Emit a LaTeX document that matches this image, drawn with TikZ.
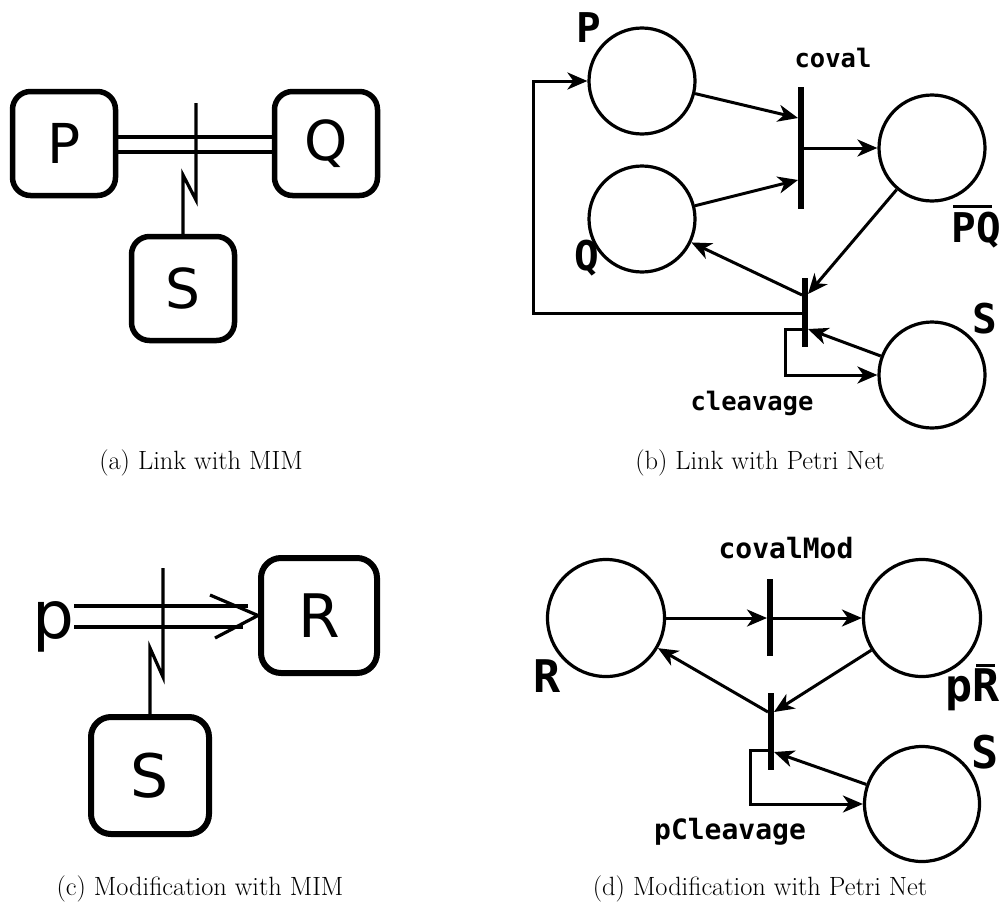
\documentclass[tikz,border=0pt]{standalone}
\usepackage{fontspec}
\newfontfamily\boxfont{DejaVu Sans}
\newfontfamily\lblfont{DejaVu Sans Mono}
\usetikzlibrary{arrows.meta}

\begin{document}
\begin{tikzpicture}[x=1pt,y=-1pt,
  mimbox/.style={draw, rounded corners=18pt, line width=5.5pt, inner sep=0pt,
    font=\boxfont\fontsize{55}{60}\selectfont},
  bigbox/.style={mimbox, rounded corners=20pt, line width=6pt,
    font=\boxfont\fontsize{60}{64}\selectfont},
  link/.style={line width=3.2pt},
  place/.style={circle, draw, line width=3.2pt, inner sep=0pt},
  trans/.style={rectangle, fill=black, inner sep=0pt, minimum width=6.5pt},
  arc/.style={line width=3pt, -{Stealth[length=20pt,width=17pt,inset=6pt]}},
  tlabel/.style={font=\lblfont\bfseries\fontsize{25.5}{28}\selectfont, anchor=base, inner sep=0pt},
  tlabelD/.style={font=\lblfont\bfseries\fontsize{28}{31}\selectfont, anchor=base, inner sep=0pt},
  plabel/.style={font=\lblfont\bfseries\fontsize{41}{44}\selectfont, anchor=base, inner sep=0pt},
  plabelD/.style={font=\lblfont\bfseries\fontsize{45}{48}\selectfont, anchor=base, inner sep=0pt},
  captext/.style={font=\fontsize{26.4}{30}\selectfont, anchor=base, inner sep=0pt},
]
\useasboundingbox (0,0) rectangle (1000,907);

% ---------- (a) link with MIM ----------
\node[mimbox, minimum width=103pt, minimum height=104pt] (P) at (64,143.5) {P};
\node[mimbox, minimum width=103pt, minimum height=104pt] (Q) at (326,143.5) {Q};
\node[mimbox, minimum width=103pt, minimum height=104pt] (S) at (183,288.5) {S};
\coordinate (ya1) at (0,137);
\coordinate (ya2) at (0,152);
\draw[link] (P.east |- ya1) -- (Q.west |- ya1);
\draw[link] (P.east |- ya2) -- (Q.west |- ya2);
\coordinate (za1) at (183,175);
\coordinate (za2) at (196,200);
\coordinate (za3) at (196,103);
\draw[link] (S.north) -- (za1) -- (za2) -- (za3);

% ---------- (c) modification with MIM ----------
\node[font=\boxfont\fontsize{66}{70}\selectfont, inner sep=0pt, anchor=base] (p) at (53,638) {p};
\node[bigbox, minimum width=116pt, minimum height=115pt] (R) at (319,615.5) {R};
\node[bigbox, minimum width=118pt, minimum height=117pt] (S2) at (150,775.5) {S};
\coordinate (yc1) at (0,606);
\coordinate (yc2) at (0,627);
\coordinate (hc1) at (248,606);
\coordinate (hc2) at (243,627);
\draw[link] (p.east |- yc1) -- (hc1);
\draw[link] (p.east |- yc2) -- (hc2);
\coordinate (bc1) at (210,595);
\coordinate (bc2) at (215,638);
\draw[link] (bc1) -- (R.west) -- (bc2);
\coordinate (zc1) at (150,648);
\coordinate (zc2) at (163,677);
\coordinate (zc3) at (163,568);
\draw[link] (S2.north) -- (zc1) -- (zc2) -- (zc3);

% ---------- (b) link with Petri net ----------
\node[place, minimum size=106pt] (Pb) at (642,81) {};
\node[place, minimum size=106pt] (Qb) at (642,219) {};
\node[place, minimum size=106pt] (PQb) at (932,148) {};
\node[place, minimum size=106pt] (Sb) at (932,375) {};
\node[trans, minimum height=122pt] (coval) at (801,148) {};
\node[trans, minimum height=69pt] (cleav) at (805,312.5) {};
\coordinate (cvIn1) at (798,118);
\coordinate (cvIn2) at (798,180);
\coordinate (cvOut) at (804,148);
\coordinate (clIn1) at (808,294);
\coordinate (clIn2) at (808,329);
\coordinate (clOutQ) at (802,295);
\coordinate (clOutP) at (802,313);
\coordinate (clOutS) at (802,329);
\coordinate (lpB) at (533,200);
\coordinate (lpS) at (785,350);
\draw[arc] (Pb) -- (cvIn1);
\draw[arc] (Qb) -- (cvIn2);
\draw[arc] (cvOut) -- (PQb);
\draw[arc] (PQb) -- (clIn1);
\draw[arc] (clOutQ) -- (Qb);
\draw[arc] (clOutP) -| (lpB) |- (Pb);
\draw[arc] (Sb) -- (clIn2);
\draw[arc] (clOutS) -| (lpS) |- (Sb);
\node[tlabel] (tcoval) at (833,67) {coval};
\node[tlabel] (tcleav) at (752,410) {cleavage};
\node[plabel] (lP) at (589,43) {P};
\node[plabel] (lQ) at (587,270) {Q};
\node[plabel] (lPQ) at (976,242) {\rlap{\hspace{2pt}\rule[34pt]{39pt}{3pt}}PQ};
\node[plabel] (lS) at (985,333) {S};

% ---------- (d) modification with Petri net ----------
\node[place, minimum size=117pt] (Rd) at (606,618) {};
\node[place, minimum size=117pt] (pRd) at (922,618) {};
\node[place, minimum size=115pt] (Sd) at (922,804) {};
\node[trans, minimum height=77pt] (cmod) at (770,617.5) {};
\node[trans, minimum height=77pt] (pcl) at (771,731.5) {};
\coordinate (cmIn) at (767,618);
\coordinate (cmOut) at (773,618);
\coordinate (pcIn1) at (774,712);
\coordinate (pcIn2) at (774,752);
\coordinate (pcOutR) at (768,712);
\coordinate (pcOutS) at (768,750);
\coordinate (lpD) at (750,780);
\draw[arc] (Rd) -- (cmIn);
\draw[arc] (cmOut) -- (pRd);
\draw[arc] (pRd) -- (pcIn1);
\draw[arc] (pcOutR) -- (Rd);
\draw[arc] (Sd) -- (pcIn2);
\draw[arc] (pcOutS) -| (lpD) |- (Sd);
\node[tlabelD] (tcmod) at (786,558) {covalMod};
\node[tlabelD] (tpcl) at (730,839) {pCleavage};
\node[plabelD] (lR) at (547,692) {R};
\node[plabelD, anchor=base west] (lpR) at (945,701) {p\rlap{\hspace{4pt}\rule[34.5pt]{19pt}{3pt}}R};
\node[plabelD] (lSd) at (985,768) {S};

% ---------- captions ----------
\node[captext] (ca) at (201,469) {(a) Link with MIM};
\node[captext] (cb) at (760,469) {(b) Link with Petri Net};
\node[captext] (cc) at (200,895) {(c) Modification with MIM};
\node[captext] (cd) at (760,895) {(d) Modification with Petri Net};
\end{tikzpicture}
\end{document}
